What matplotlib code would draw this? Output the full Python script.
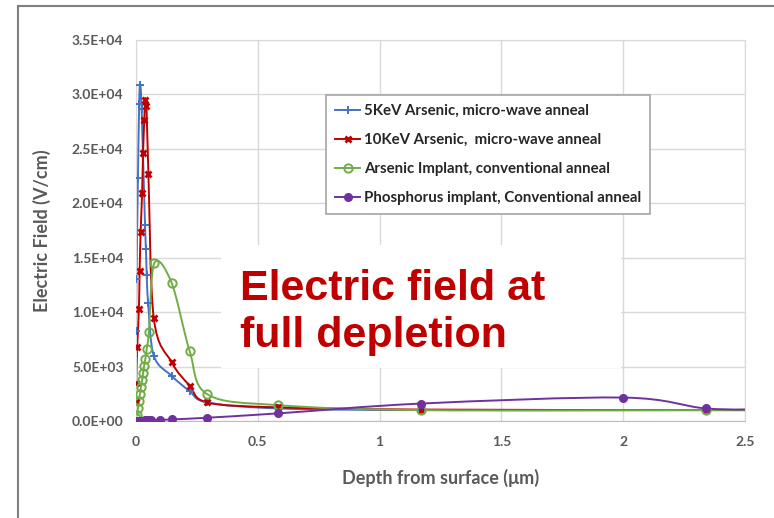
import numpy as np
import matplotlib
matplotlib.use('Agg')
from matplotlib import pyplot as plt
from matplotlib.path import Path
from matplotlib.patches import PathPatch, Rectangle
from matplotlib.lines import Line2D
from matplotlib.ticker import FuncFormatter, MultipleLocator

# depth (um) and field (V/cm)
# (last point of each series lies just past the axis end, as the lines run to the edge)
as5_x = [0.000, 0.002, 0.008, 0.013, 0.017, 0.023, 0.037, 0.041, 0.044, 0.050,
         0.073, 0.146, 0.220, 0.293, 0.585, 1.170, 2.340, 2.600]
as5_y = [8300, 13000, 22300, 29100, 30900, 28700, 18000, 15800, 13400, 10800,
         6000, 4150, 2750, 1700, 1150, 1000, 1000, 1000]

as10_x = [0.000, 0.001, 0.005, 0.012, 0.015, 0.019, 0.025, 0.029, 0.034, 0.038,
          0.043, 0.051, 0.073, 0.146, 0.220, 0.293, 0.585, 1.170, 2.340, 2.600]
as10_y = [1700, 3450, 6800, 10300, 13800, 17350, 20900, 24600, 27650, 29450,
          28950, 22700, 9450, 5400, 3250, 1700, 1250, 1050, 1000, 1000]

asconv_x = [0.000, 0.004, 0.008, 0.012, 0.016, 0.020, 0.025, 0.029, 0.033, 0.038,
            0.044, 0.053, 0.075, 0.146, 0.220, 0.293, 0.585, 1.170, 2.340, 2.600]
asconv_y = [250, 550, 1150, 1850, 2450, 3100, 3750, 4400, 5050, 5650,
            6600, 8200, 14500, 12700, 6450, 2450, 1450, 1000, 1000, 1000]

phos_x = [0.000, 0.005, 0.010, 0.015, 0.020, 0.025, 0.030, 0.035, 0.040, 0.045,
          0.050, 0.060, 0.100, 0.146, 0.293, 0.585, 1.170, 2.000, 2.340, 2.600]
phos_y = [10, 15, 20, 25, 30, 35, 40, 45, 50, 55,
          60, 70, 100, 140, 300, 700, 1600, 2150, 1150, 1080]

labels = ['5KeV Arsenic, micro-wave anneal',
          '10KeV Arsenic,  micro-wave anneal',
          'Arsenic Implant, conventional anneal',
          'Phosphorus implant, Conventional anneal']

GRAY = '#595959'


def smooth_path(xs, ys):
    # excel style smoothed line: bezier segments with catmull-rom control points
    p = np.column_stack([xs, ys]).astype(float)
    n = len(p)
    verts = [p[0]]
    codes = [Path.MOVETO]
    for i in range(n - 1):
        p0 = p[i - 1] if i > 0 else p[i]
        p3 = p[i + 2] if i + 2 < n else p[i + 1]
        c1 = p[i] + (p[i + 1] - p0) / 6.0
        c2 = p[i + 1] - (p3 - p[i]) / 6.0
        verts += [c1, c2, p[i + 1]]
        codes += [Path.CURVE4] * 3
    return Path(verts, codes)


fig = plt.figure(figsize=(7.74, 5.18), dpi=100)
ax = fig.add_axes([0.1757, 0.1873, 0.7868, 0.7355])

series = [
    (as5_x, as5_y, '#4472C4', dict(marker='+', ms=6, mew=1.4)),
    (as10_x, as10_y, '#C00000', dict(marker='x', ms=5, mew=2.0)),
    (asconv_x, asconv_y, '#70AD47', dict(marker='o', ms=6, mew=1.4, mfc='none')),
    (phos_x, phos_y, '#7030A0', dict(marker='o', ms=5.5, mew=1.0)),
]

handles = []
for (xs, ys, col, mk), lab in zip(series, labels):
    ax.add_patch(PathPatch(smooth_path(xs, ys), fc='none', ec=col, lw=1.4, zorder=2))
    ax.plot(xs, ys, linestyle='none', color=col, zorder=3, **mk)
    handles.append(Line2D([], [], color=col, lw=1.4, **mk))

ax.set_xlim(0, 2.5)
ax.set_ylim(0, 35000)
ax.xaxis.set_major_locator(MultipleLocator(0.5))
ax.yaxis.set_major_locator(MultipleLocator(5000))
ax.xaxis.set_major_formatter(FuncFormatter(lambda v, p: '{:g}'.format(v)))
ax.yaxis.set_major_formatter(FuncFormatter(lambda v, p: '{:.1E}'.format(v)))
ax.grid(True, color='#d9d9d9', lw=1.0)
ax.tick_params(length=0, labelsize=10, labelcolor=GRAY)
ax.tick_params(axis='x', pad=11)
ax.tick_params(axis='y', pad=9)
for t in ax.get_xticklabels() + ax.get_yticklabels():
    t.set_fontweight('bold')
    t.set_family('Lato')
for s in ax.spines.values():
    s.set_color('#d9d9d9')
ax.spines['bottom'].set_color('#bfbfbf')

ax.set_xlabel('Depth from surface (\u03bcm)', fontsize=13, fontweight='bold',
              color=GRAY, family=['Lato', 'DejaVu Sans'], labelpad=15)
ax.set_ylabel('Electric Field (V/cm)', fontsize=13, fontweight='bold',
              color=GRAY, family='Lato', labelpad=15)

leg = ax.legend(handles, labels, loc='upper left', bbox_to_anchor=(0.312, 0.856),
                frameon=True, fancybox=False, edgecolor='#a6a6a6', framealpha=1,
                handlelength=1.7, handletextpad=0.25, labelspacing=1.0,
                borderpad=0.6, borderaxespad=0,
                prop=dict(family='Lato', weight='bold', size=10.8))
leg.get_frame().set_linewidth(1.2)
for t in leg.get_texts():
    t.set_color('#262626')

# white box behind the annotation
ax.add_patch(Rectangle((0.1396, 0.139), 0.6567, 0.323, transform=ax.transAxes,
                       fc='white', ec='none', zorder=1.6))
ax.text(0.171, 0.285, 'Electric field at\nfull depletion', transform=ax.transAxes,
        ha='left', va='center', fontsize=31, fontweight='bold', color='#C00000',
        family='Liberation Sans', linespacing=1.22, zorder=4)

# slide frame
fig.add_artist(Line2D([18 / 774, 18 / 774], [0, 1 - 6 / 518], color='#7f7f7f', lw=1.5))
fig.add_artist(Line2D([18 / 774, 1], [1 - 6 / 518, 1 - 6 / 518], color='#7f7f7f', lw=1.5))

fig.savefig('out.png', dpi=100)
